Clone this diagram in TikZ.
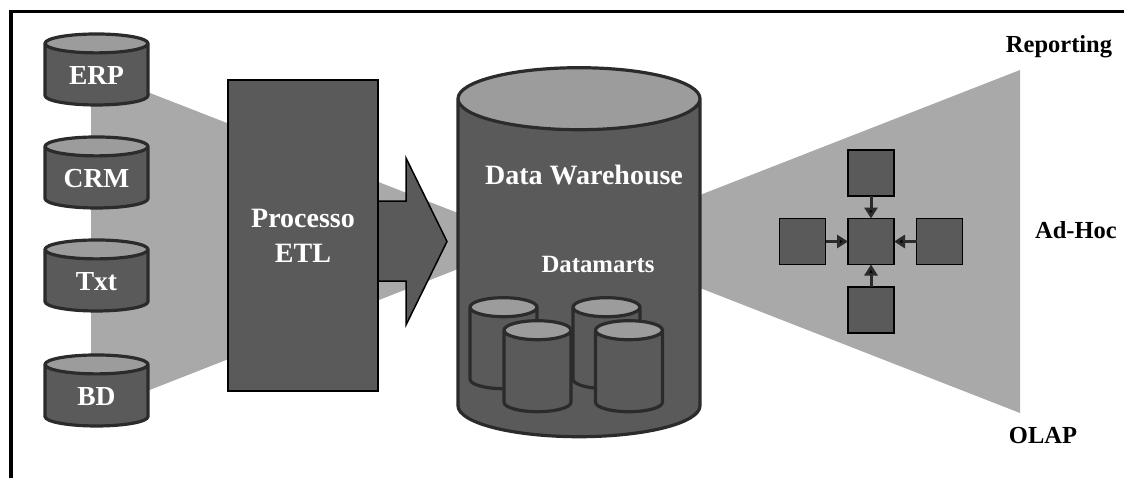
\documentclass[tikz,border=0pt]{standalone}
\usepackage{fontspec}
\setmainfont{Liberation Serif}
\usetikzlibrary{shapes.geometric,arrows.meta,positioning}

\definecolor{bodygray}{HTML}{5A5A5A}
\definecolor{endgray}{HTML}{9C9C9C}
\definecolor{fangray}{HTML}{A9A9A9}
\definecolor{edgegray}{HTML}{2B2B2B}

\begin{document}
\begin{tikzpicture}[x=1pt,y=-1pt,>={Triangle[length=11pt,width=13pt]},semithick]
	\tikzstyle{cyl}=[cylinder,shape border rotate=90,draw=edgegray,line width=3.2pt,cylinder uses custom fill,cylinder body fill=bodygray,cylinder end fill=endgray,text=white,inner sep=0pt,outer sep=0pt,align=center]
	\tikzstyle{source}=[cyl,minimum width=103pt,minimum height=71pt,text width=70pt,text height=18pt,text depth=0pt,shape aspect=0.27,font=\fontsize{27.5}{30}\selectfont\bfseries]
	\tikzstyle{mart}=[cyl,minimum width=67pt,minimum height=91pt,text width=50pt,shape aspect=0.38]
	\tikzstyle{square}=[draw=black,line width=1.5pt,fill=bodygray,minimum size=46pt,inner sep=0pt,outer sep=0pt,node distance=68.5pt]
	\tikzstyle{caption}=[text=black,font=\fontsize{24.5}{28}\selectfont\bfseries]
	\useasboundingbox (0,0) rectangle (1124,477);
	\draw[line width=3.5pt,line cap=rect] (11,480) -- (11,11.5) -- (1128,11.5);
	% funnels behind the stores
	\fill[fangray] (91,70) -- (458,213) -- (458,269) -- (91,413) -- cycle;
	\fill[fangray] (700,195) -- (1020,70) -- (1020,413) -- (700,288) -- cycle;
	% sources
	\node[source] (ERP) at (96.5,75) {ERP};
	\node[source] (CRM) at (96.5,178) {CRM};
	\node[source] (Txt) at (96.5,281) {Txt};
	\node[source] (BD) at (96.5,396) {BD};
	% etl
	\draw[draw=black,line width=1.5pt,fill=bodygray] (378,201) -- (406,201) -- (406,158) -- (447,241.5) -- (406,325) -- (406,281) -- (378,281) -- cycle;
	\node[draw=black,line width=1.5pt,fill=bodygray,minimum width=150pt,minimum height=311pt,text=white,align=center,inner sep=0pt,font=\fontsize{28}{35}\selectfont\bfseries] (ETL) at (303,235.5) {Processo\\ETL};
	% warehouse
	\node[cyl,minimum width=242pt,minimum height=369pt,text width=200pt,shape aspect=0.31] (DW) at (579,268.5) {};
	\node[text=white,font=\fontsize{28}{32}\selectfont\bfseries] (DWlabel) at (584,175) {Data Warehouse};
	\node[text=white,font=\fontsize{24.8}{28}\selectfont\bfseries] (DMlabel) at (598,264) {Datamarts};
	\node[mart] (Ma) at (503.5,348.75) {};
	\node[mart] (Mb) at (606.5,348.75) {};
	\node[mart] (Mc) at (537.5,371.75) {};
	\node[mart] (Md) at (629,371.75) {};
	% cube
	\node[square] (H) at (871,241.5) {};
	\node[square] (Ht) [above of=H] {};
	\node[square] (Hb) [below of=H] {};
	\node[square] (Hl) [left of=H] {};
	\node[square] (Hr) [right of=H] {};
	\path[->,draw=edgegray,line width=3pt]
	(Ht) edge (H)
	(Hb) edge (H)
	(Hl) edge (H)
	(Hr) edge (H);
	% captions
	\node[caption] (Rep) at (1059,47) {Reporting};
	\node[caption] (Adh) at (1076,230) {Ad-Hoc};
	\node[caption] (Olap) at (1043,436) {OLAP};
\end{tikzpicture}
\end{document}
